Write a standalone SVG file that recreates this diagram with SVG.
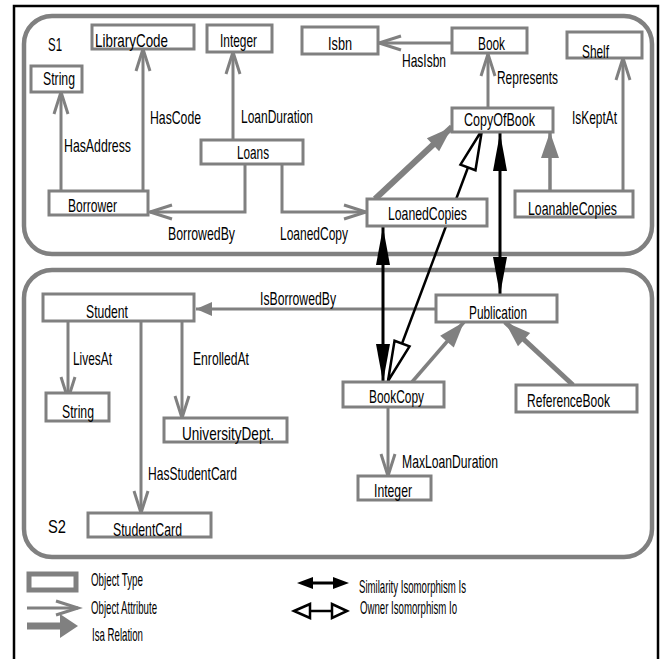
<svg xmlns="http://www.w3.org/2000/svg" width="665" height="659" viewBox="0 0 665 659">
<style>
text{font-family:"Liberation Sans",Arial,sans-serif;font-size:18.5px;fill:#000}
.box{fill:#fff;stroke:#808080;stroke-width:3}
.grp{fill:none;stroke:#808080;stroke-width:4.5}
.att{fill:none;stroke:#808080;stroke-width:3;marker-end:url(#v)}
.isa{fill:none;stroke:#808080;marker-end:url(#isa)}
.sim{fill:none;stroke:#000;stroke-width:3;marker-start:url(#sim);marker-end:url(#sim)}
.own{fill:none;stroke:#000;stroke-width:2.5;marker-start:url(#own);marker-end:url(#own)}
</style>
<defs>
<marker id="v" markerUnits="userSpaceOnUse" markerWidth="30" markerHeight="20" refX="22" refY="7" orient="auto" overflow="visible"><path d="M0,0 L22,7 L0,14" fill="none" stroke="#808080" stroke-width="3"/></marker>
<marker id="isa" markerUnits="userSpaceOnUse" markerWidth="30" markerHeight="20" refX="26" refY="9" orient="auto" overflow="visible"><path d="M0,0 L26,9 L0,18 z" fill="#808080"/></marker>
<marker id="att2" markerUnits="userSpaceOnUse" markerWidth="20" markerHeight="20" refX="16" refY="7" orient="auto" overflow="visible"><path d="M0,0 L16,7 L0,14 z" fill="#808080"/></marker>
<marker id="sim" markerUnits="userSpaceOnUse" markerWidth="40" markerHeight="20" refX="38" refY="7" orient="auto-start-reverse" overflow="visible"><path d="M0,0 L38,7 L0,14 z" fill="#000"/></marker>
<marker id="own" markerUnits="userSpaceOnUse" markerWidth="44" markerHeight="20" refX="40" refY="8" orient="auto-start-reverse" overflow="visible"><path d="M0,0 L40,8 L0,16 z" fill="#fff" stroke="#000" stroke-width="2.5" stroke-linejoin="miter"/></marker>
</defs>
<rect width="665" height="659" fill="#fff"/>
<rect x="14" y="6" width="644" height="680" fill="none" stroke="#000" stroke-width="2.5"/>
<rect class="grp" x="24" y="16" width="628" height="238" rx="28"/>
<rect class="grp" x="24" y="270" width="628" height="287" rx="28"/>
<text x="48" y="51" textLength="14" lengthAdjust="spacingAndGlyphs">S1</text>
<text x="48" y="533" textLength="18" lengthAdjust="spacingAndGlyphs">S2</text>

<g id="connectors">
<path class="att" d="M61,191 V92"/>
<path class="att" d="M143,191 V49"/>
<path class="att" d="M233,140 V52"/>
<path class="att" d="M245,164 V212 H150"/>
<path class="att" d="M282,164 V212 H366"/>
<path class="att" d="M452,43 H379"/>
<path class="att" d="M488,108 V54"/>
<path class="att" d="M623,191 V58"/>
<path d="M436,309 H196" fill="none" stroke="#808080" stroke-width="3" marker-end="url(#att2)"/>
<path class="att" d="M68,321 V399"/>
<path class="att" d="M182,321 V418"/>
<path class="att" d="M141,321 V513"/>
<path class="att" d="M388,407 V476"/>
<path class="isa" stroke-width="6" d="M375,199 L452,127"/>
<path class="isa" stroke-width="3.5" d="M550,191 V132"/>
<path class="isa" stroke-width="3.5" d="M412,382 L464,322"/>
<path class="isa" stroke-width="5" d="M573,385 L505,322"/>
<path class="sim" d="M500,133 V295"/>
<path class="sim" d="M383,227 V382"/>
<path class="own" d="M482,130 L388,381"/>
</g>

<g id="LibraryCode"><rect class="box" x="92" y="25" width="102" height="24"/><text x="95" y="47" textLength="73" lengthAdjust="spacingAndGlyphs">LibraryCode</text></g>
<g id="Integer1"><rect class="box" x="207" y="25" width="65" height="27"/><text x="220" y="47" textLength="37" lengthAdjust="spacingAndGlyphs">Integer</text></g>
<g id="Isbn"><rect class="box" x="302" y="27" width="76" height="27"/><text x="328" y="50" textLength="24" lengthAdjust="spacingAndGlyphs">Isbn</text></g>
<g id="Book"><rect class="box" x="452" y="28" width="75" height="25"/><text x="478" y="50" textLength="27" lengthAdjust="spacingAndGlyphs">Book</text></g>
<g id="Shelf"><rect class="box" x="567" y="32" width="75" height="26"/><text x="582" y="58" textLength="27" lengthAdjust="spacingAndGlyphs">Shelf</text></g>
<g id="String1"><rect class="box" x="31" y="66" width="51" height="26"/><text x="43" y="85" textLength="32" lengthAdjust="spacingAndGlyphs">String</text></g>
<g id="Loans"><rect class="box" x="201" y="140" width="102" height="24"/><text x="237" y="159" textLength="32" lengthAdjust="spacingAndGlyphs">Loans</text></g>
<g id="CopyOfBook"><rect class="box" x="452" y="108" width="101" height="24"/><text x="464" y="126" textLength="71" lengthAdjust="spacingAndGlyphs">CopyOfBook</text></g>
<g id="Borrower"><rect class="box" x="49" y="191" width="99" height="24"/><text x="68" y="212" textLength="49" lengthAdjust="spacingAndGlyphs">Borrower</text></g>
<g id="LoanedCopies"><rect class="box" x="367" y="199" width="120" height="27"/><text x="388" y="220" textLength="79" lengthAdjust="spacingAndGlyphs">LoanedCopies</text></g>
<g id="LoanableCopies"><rect class="box" x="515" y="191" width="118" height="26"/><text x="528" y="215" textLength="89" lengthAdjust="spacingAndGlyphs">LoanableCopies</text></g>
<g id="Student"><rect class="box" x="43" y="294" width="151" height="27"/><text x="86" y="318" textLength="42" lengthAdjust="spacingAndGlyphs">Student</text></g>
<g id="Publication"><rect class="box" x="436" y="295" width="121" height="27"/><text x="469" y="319" textLength="58" lengthAdjust="spacingAndGlyphs">Publication</text></g>
<g id="String2"><rect class="box" x="46" y="393" width="63" height="28"/><text x="62" y="418" textLength="32" lengthAdjust="spacingAndGlyphs">String</text></g>
<g id="UniversityDept"><rect class="box" x="164" y="418" width="123" height="24"/><text x="182" y="440" textLength="92" lengthAdjust="spacingAndGlyphs">UniversityDept.</text></g>
<g id="BookCopy"><rect class="box" x="343" y="382" width="101" height="25"/><text x="369" y="403" textLength="55" lengthAdjust="spacingAndGlyphs">BookCopy</text></g>
<g id="ReferenceBook"><rect class="box" x="516" y="385" width="121" height="27"/><text x="527" y="407" textLength="83" lengthAdjust="spacingAndGlyphs">ReferenceBook</text></g>
<g id="Integer2"><rect class="box" x="358" y="476" width="73" height="24"/><text x="374" y="497" textLength="38" lengthAdjust="spacingAndGlyphs">Integer</text></g>
<g id="StudentCard"><rect class="box" x="88" y="513" width="123" height="24"/><text x="113" y="536" textLength="69" lengthAdjust="spacingAndGlyphs">StudentCard</text></g>

<g id="labels">
<text x="150" y="124" textLength="51" lengthAdjust="spacingAndGlyphs">HasCode</text>
<text x="241" y="123" textLength="72" lengthAdjust="spacingAndGlyphs">LoanDuration</text>
<text x="64" y="152" textLength="67" lengthAdjust="spacingAndGlyphs">HasAddress</text>
<text x="402" y="67" textLength="44" lengthAdjust="spacingAndGlyphs">HasIsbn</text>
<text x="497" y="84" textLength="61" lengthAdjust="spacingAndGlyphs">Represents</text>
<text x="572" y="124" textLength="45" lengthAdjust="spacingAndGlyphs">IsKeptAt</text>
<text x="168" y="240" textLength="67" lengthAdjust="spacingAndGlyphs">BorrowedBy</text>
<text x="280" y="240" textLength="68" lengthAdjust="spacingAndGlyphs">LoanedCopy</text>
<text x="260" y="305" textLength="76" lengthAdjust="spacingAndGlyphs">IsBorrowedBy</text>
<text x="73" y="365" textLength="39" lengthAdjust="spacingAndGlyphs">LivesAt</text>
<text x="193" y="365" textLength="56" lengthAdjust="spacingAndGlyphs">EnrolledAt</text>
<text x="402" y="468" textLength="96" lengthAdjust="spacingAndGlyphs">MaxLoanDuration</text>
<text x="148" y="480" textLength="89" lengthAdjust="spacingAndGlyphs">HasStudentCard</text>
</g>

<g id="legend">
<rect x="29" y="574" width="47" height="16" fill="#fff" stroke="#808080" stroke-width="5"/>
<text x="91" y="586" textLength="52" lengthAdjust="spacingAndGlyphs">Object Type</text>
<path class="att" d="M27,608 H78"/>
<text x="91" y="614" textLength="66" lengthAdjust="spacingAndGlyphs">Object Attribute</text>
<path d="M27,626 H62" stroke="#808080" stroke-width="7"/>
<path d="M60,614 L78,626 L60,638 z" fill="#808080"/>
<text x="92" y="641" textLength="51" lengthAdjust="spacingAndGlyphs">Isa Relation</text>
<path d="M312,583 H334" stroke="#000" stroke-width="3"/>
<path d="M297,583 L313,577 L313,589 z M349,583 L333,577 L333,589 z" fill="#000"/>
<text x="359" y="593" textLength="107" lengthAdjust="spacingAndGlyphs">Similarity Isomorphism Is</text>
<path d="M310,611 H332" stroke="#000" stroke-width="2.5"/>
<path d="M294,611 L310,604 L310,618 z M347,611 L332,604 L332,618 z" fill="#fff" stroke="#000" stroke-width="2.5"/>
<text x="360" y="614" textLength="97" lengthAdjust="spacingAndGlyphs">Owner Isomorphism Io</text>
</g>
</svg>
